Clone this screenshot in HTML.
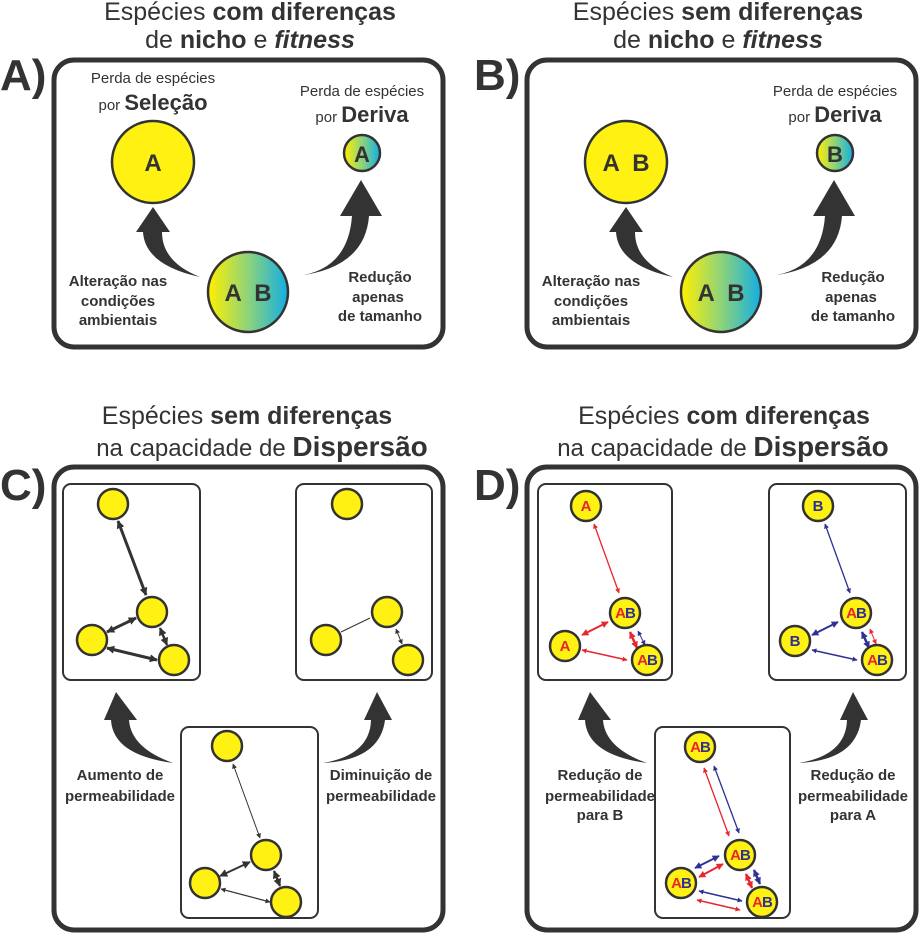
<!DOCTYPE html>
<html><head><meta charset="utf-8"><style>
body{margin:0;background:#fff}
text{font-family:"Liberation Sans",sans-serif;fill:#333}
</style></head><body>
<svg width="920" height="936" viewBox="0 0 920 936" xmlns="http://www.w3.org/2000/svg">
<defs>
<linearGradient id="g" x1="0" x2="1" y1="0" y2="0"><stop offset="0" stop-color="#fff000"/><stop offset="0.5" stop-color="#8fd37a"/><stop offset="1" stop-color="#12aee4"/></linearGradient>
<marker id="k" viewBox="0 0 10 10" refX="9" refY="5" markerUnits="userSpaceOnUse" markerWidth="8" markerHeight="8" orient="auto-start-reverse"><path d="M0,0L10,5L0,10z" fill="#333"/></marker>
<marker id="ks" viewBox="0 0 10 10" refX="9" refY="5" markerUnits="userSpaceOnUse" markerWidth="5" markerHeight="5" orient="auto-start-reverse"><path d="M0,0L10,5L0,10z" fill="#333"/></marker>
<marker id="r" viewBox="0 0 10 10" refX="9" refY="5" markerUnits="userSpaceOnUse" markerWidth="7" markerHeight="7" orient="auto-start-reverse"><path d="M0,0L10,5L0,10z" fill="#e8262d"/></marker>
<marker id="rs" viewBox="0 0 10 10" refX="9" refY="5" markerUnits="userSpaceOnUse" markerWidth="5" markerHeight="5" orient="auto-start-reverse"><path d="M0,0L10,5L0,10z" fill="#e8262d"/></marker>
<marker id="b" viewBox="0 0 10 10" refX="9" refY="5" markerUnits="userSpaceOnUse" markerWidth="7" markerHeight="7" orient="auto-start-reverse"><path d="M0,0L10,5L0,10z" fill="#2e3192"/></marker>
<marker id="bs" viewBox="0 0 10 10" refX="9" refY="5" markerUnits="userSpaceOnUse" markerWidth="5" markerHeight="5" orient="auto-start-reverse"><path d="M0,0L10,5L0,10z" fill="#2e3192"/></marker>
<g id="al"><path d="M143,232 Q145,265 200,277 Q162,262 162,232 L170,232 L153,207 L136,232 Z" fill="#333"/></g>
<g id="ar"><path d="M297,276 Q348,270 352,216 L340,216 L361,180 L382,216 L369,216 Q365,268 297,276 Z" fill="#333"/></g>
<g id="cl"><path d="M111,720 Q113,755 173,763 Q131,748 129,720 L137,720 L116,692 L104,720 Z" fill="#333"/></g>
<g id="cr"><path d="M323,763 Q370,755 371,720 L364,720 L377,692 L392,720 L385,720 Q380,760 323,763 Z" fill="#333"/></g>
</defs>
<g font-size="25" text-anchor="middle">
<text x="250" y="20">Espécies <tspan font-weight="bold">com diferenças</tspan></text>
<text x="250" y="48">de <tspan font-weight="bold">nicho</tspan> e <tspan font-weight="bold" font-style="italic">fitness</tspan></text>
<text x="718" y="20">Espécies <tspan font-weight="bold">sem diferenças</tspan></text>
<text x="718" y="48">de <tspan font-weight="bold">nicho</tspan> e <tspan font-weight="bold" font-style="italic">fitness</tspan></text>
<text x="247" y="424">Espécies <tspan font-weight="bold">sem diferenças</tspan></text>
<text x="724" y="424">Espécies <tspan font-weight="bold">com diferenças</tspan></text>
</g>
<g font-size="24" text-anchor="middle">
<text x="262" y="456">na capacidade de <tspan font-weight="bold" font-size="28">Dispersão</tspan></text>
<text x="723" y="456">na capacidade de <tspan font-weight="bold" font-size="28">Dispersão</tspan></text>
</g>
<g font-size="44" font-weight="bold">
<text x="0" y="90">A)</text><text x="474" y="90">B)</text>
<text x="0" y="500">C)</text><text x="474" y="500">D)</text>
</g>
<g fill="none" stroke="#333" stroke-width="5">
<rect x="54" y="60" width="389" height="287" rx="20"/>
<rect x="527" y="60" width="389" height="287" rx="20"/>
<rect x="54" y="467" width="389" height="463" rx="20"/>
<rect x="527" y="467" width="389" height="463" rx="20"/>
</g>
<!-- A -->
<g text-anchor="middle">
<text x="153" y="83" font-size="15">Perda de espécies</text>
<text x="153" y="110" font-size="15">por <tspan font-size="22" font-weight="bold">Seleção</tspan></text>
<text x="362" y="96" font-size="15">Perda de espécies</text>
<text x="362" y="122" font-size="15">por <tspan font-size="22" font-weight="bold">Deriva</tspan></text>
<circle cx="153" cy="162" r="41" fill="#fff212" stroke="#333" stroke-width="2.5"/>
<text x="153" y="171" font-size="24" font-weight="bold">A</text>
<circle cx="362" cy="153" r="18" fill="url(#g)" stroke="#333" stroke-width="2.5"/>
<text x="362" y="162" font-size="22" font-weight="bold">A</text>
<circle cx="248" cy="292" r="40" fill="url(#g)" stroke="#333" stroke-width="2.5"/>
<text x="248" y="301" font-size="24" font-weight="bold" xml:space="preserve">A  B</text>
<g font-size="15" font-weight="bold">
<text x="118" y="286">Alteração nas</text><text x="118" y="306">condições</text><text x="118" y="325">ambientais</text>
<text x="380" y="282">Redução</text><text x="378" y="302">apenas</text><text x="380" y="321">de tamanho</text>
</g>
</g>
<use href="#al"/><use href="#ar"/>
<!-- B -->
<g text-anchor="middle">
<text x="835" y="96" font-size="15">Perda de espécies</text>
<text x="835" y="122" font-size="15">por <tspan font-size="22" font-weight="bold">Deriva</tspan></text>
<circle cx="626" cy="162" r="41" fill="#fff212" stroke="#333" stroke-width="2.5"/>
<text x="626" y="171" font-size="24" font-weight="bold" xml:space="preserve">A  B</text>
<circle cx="835" cy="153" r="18" fill="url(#g)" stroke="#333" stroke-width="2.5"/>
<text x="835" y="162" font-size="22" font-weight="bold">B</text>
<circle cx="721" cy="292" r="40" fill="url(#g)" stroke="#333" stroke-width="2.5"/>
<text x="721" y="301" font-size="24" font-weight="bold" xml:space="preserve">A  B</text>
<g font-size="15" font-weight="bold">
<text x="591" y="286">Alteração nas</text><text x="591" y="306">condições</text><text x="591" y="325">ambientais</text>
<text x="853" y="282">Redução</text><text x="851" y="302">apenas</text><text x="853" y="321">de tamanho</text>
</g>
</g>
<use href="#al" transform="translate(473,0)"/><use href="#ar" transform="translate(473,0)"/>
<!-- C / D inner boxes -->
<g fill="#fff" stroke="#333" stroke-width="2">
<rect x="63" y="484" width="137" height="196" rx="8"/>
<rect x="296" y="484" width="136" height="196" rx="8"/>
<rect x="181" y="727" width="137" height="191" rx="8"/>
<rect x="538" y="484" width="134" height="196" rx="8"/>
<rect x="769" y="484" width="137" height="196" rx="8"/>
<rect x="655" y="727" width="135" height="191" rx="8"/>
</g>
<use href="#cl"/><use href="#cr"/>
<use href="#cl" transform="translate(474,0)"/><use href="#cr" transform="translate(476,0)"/>
<g stroke="#333" fill="none">
<line x1="118" y1="521" x2="146" y2="595" stroke-width="3" marker-start="url(#k)" marker-end="url(#k)"/>
<line x1="107" y1="632" x2="136" y2="618" stroke-width="3" marker-start="url(#k)" marker-end="url(#k)"/>
<line x1="107" y1="648" x2="157" y2="660" stroke-width="3" marker-start="url(#k)" marker-end="url(#k)"/>
<line x1="160" y1="628" x2="167" y2="645" stroke-width="2.5" marker-start="url(#k)" marker-end="url(#k)"/>
<line x1="341" y1="632" x2="370" y2="618" stroke-width="1"/>
<line x1="396" y1="629" x2="402" y2="644" stroke-width="1" marker-start="url(#ks)" marker-end="url(#ks)"/>
<line x1="233" y1="764" x2="260" y2="838" stroke-width="1" marker-start="url(#ks)" marker-end="url(#ks)"/>
<line x1="220" y1="876" x2="250" y2="862" stroke-width="2" marker-start="url(#k)" marker-end="url(#k)"/>
<line x1="221" y1="889" x2="270" y2="902" stroke-width="1.2" marker-start="url(#ks)" marker-end="url(#ks)"/>
<line x1="274" y1="871" x2="280" y2="886" stroke-width="2.5" marker-start="url(#k)" marker-end="url(#k)"/>
</g>
<g fill="#fff212" stroke="#333" stroke-width="2.5">
<circle cx="113" cy="504" r="15"/><circle cx="152" cy="612" r="15"/><circle cx="92" cy="640" r="15"/><circle cx="174" cy="660" r="15"/>
<circle cx="347" cy="504" r="15"/><circle cx="387" cy="612" r="15"/><circle cx="326" cy="640" r="15"/><circle cx="408" cy="660" r="15"/>
<circle cx="227" cy="746" r="15"/><circle cx="266" cy="855" r="15"/><circle cx="205" cy="883" r="15"/><circle cx="286" cy="902" r="15"/>
</g>
<g text-anchor="middle" font-size="15" font-weight="bold">
<text x="120" y="780">Aumento de</text><text x="120" y="801">permeabilidade</text>
<text x="381" y="780">Diminuição de</text><text x="381" y="801">permeabilidade</text>
<text x="600" y="780">Redução de</text><text x="600" y="801">permeabilidade</text><text x="600" y="820">para B</text>
<text x="853" y="780">Redução de</text><text x="853" y="801">permeabilidade</text><text x="853" y="820">para A</text>
</g>
<!-- D arrows -->
<g fill="none">
<line x1="594" y1="524" x2="619" y2="593" stroke="#e8262d" stroke-width="1.3" marker-start="url(#rs)" marker-end="url(#rs)"/>
<line x1="582" y1="635" x2="608" y2="622" stroke="#e8262d" stroke-width="2" marker-start="url(#r)" marker-end="url(#r)"/>
<line x1="582" y1="650" x2="627" y2="660" stroke="#e8262d" stroke-width="1.5" marker-start="url(#rs)" marker-end="url(#rs)"/>
<line x1="630" y1="632" x2="637" y2="648" stroke="#e8262d" stroke-width="2.5" marker-start="url(#r)" marker-end="url(#r)"/>
<line x1="638" y1="631" x2="645" y2="645" stroke="#2e3192" stroke-width="1" marker-start="url(#bs)" marker-end="url(#bs)"/>
<line x1="825" y1="524" x2="850" y2="593" stroke="#2e3192" stroke-width="1.3" marker-start="url(#bs)" marker-end="url(#bs)"/>
<line x1="812" y1="635" x2="838" y2="622" stroke="#2e3192" stroke-width="2" marker-start="url(#b)" marker-end="url(#b)"/>
<line x1="812" y1="650" x2="857" y2="660" stroke="#2e3192" stroke-width="1.5" marker-start="url(#bs)" marker-end="url(#bs)"/>
<line x1="862" y1="632" x2="869" y2="648" stroke="#2e3192" stroke-width="2.5" marker-start="url(#b)" marker-end="url(#b)"/>
<line x1="870" y1="629" x2="876" y2="644" stroke="#e8262d" stroke-width="1" marker-start="url(#rs)" marker-end="url(#rs)"/>
<line x1="704" y1="768" x2="729" y2="836" stroke="#e8262d" stroke-width="1.3" marker-start="url(#rs)" marker-end="url(#rs)"/>
<line x1="714" y1="766" x2="739" y2="833" stroke="#2e3192" stroke-width="1.3" marker-start="url(#bs)" marker-end="url(#bs)"/>
<line x1="695" y1="868" x2="719" y2="856" stroke="#2e3192" stroke-width="2" marker-start="url(#b)" marker-end="url(#b)"/>
<line x1="699" y1="877" x2="723" y2="864" stroke="#e8262d" stroke-width="2" marker-start="url(#r)" marker-end="url(#r)"/>
<line x1="699" y1="891" x2="742" y2="901" stroke="#2e3192" stroke-width="1.5" marker-start="url(#bs)" marker-end="url(#bs)"/>
<line x1="697" y1="900" x2="740" y2="910" stroke="#e8262d" stroke-width="1.5" marker-start="url(#rs)" marker-end="url(#rs)"/>
<line x1="746" y1="874" x2="752" y2="888" stroke="#e8262d" stroke-width="2.5" marker-start="url(#r)" marker-end="url(#r)"/>
<line x1="754" y1="870" x2="760" y2="884" stroke="#2e3192" stroke-width="2.5" marker-start="url(#b)" marker-end="url(#b)"/>
</g>
<g fill="#fff212" stroke="#333" stroke-width="2.5">
<circle cx="586" cy="506" r="15"/><circle cx="625" cy="613" r="15"/><circle cx="565" cy="646" r="15"/><circle cx="647" cy="660" r="15"/>
<circle cx="818" cy="506" r="15"/><circle cx="856" cy="613" r="15"/><circle cx="795" cy="641" r="15"/><circle cx="877" cy="660" r="15"/>
<circle cx="700" cy="747" r="15"/><circle cx="740" cy="855" r="15"/><circle cx="681" cy="883" r="15"/><circle cx="762" cy="902" r="15"/>
</g>
<g text-anchor="middle" font-size="15" font-weight="bold">
<text x="586" y="511" style="fill:#e8262d">A</text>
<text x="565" y="651" style="fill:#e8262d">A</text>
<text x="818" y="511" style="fill:#2e3192">B</text>
<text x="795" y="646" style="fill:#2e3192">B</text>
<g letter-spacing="-1">
<text x="625" y="618"><tspan style="fill:#e8262d">A</tspan><tspan style="fill:#2e3192">B</tspan></text>
<text x="647" y="665"><tspan style="fill:#e8262d">A</tspan><tspan style="fill:#2e3192">B</tspan></text>
<text x="856" y="618"><tspan style="fill:#e8262d">A</tspan><tspan style="fill:#2e3192">B</tspan></text>
<text x="877" y="665"><tspan style="fill:#e8262d">A</tspan><tspan style="fill:#2e3192">B</tspan></text>
<text x="700" y="752"><tspan style="fill:#e8262d">A</tspan><tspan style="fill:#2e3192">B</tspan></text>
<text x="740" y="860"><tspan style="fill:#e8262d">A</tspan><tspan style="fill:#2e3192">B</tspan></text>
<text x="681" y="888"><tspan style="fill:#e8262d">A</tspan><tspan style="fill:#2e3192">B</tspan></text>
<text x="762" y="907"><tspan style="fill:#e8262d">A</tspan><tspan style="fill:#2e3192">B</tspan></text>
</g>
</g>
</svg>
</body></html>
